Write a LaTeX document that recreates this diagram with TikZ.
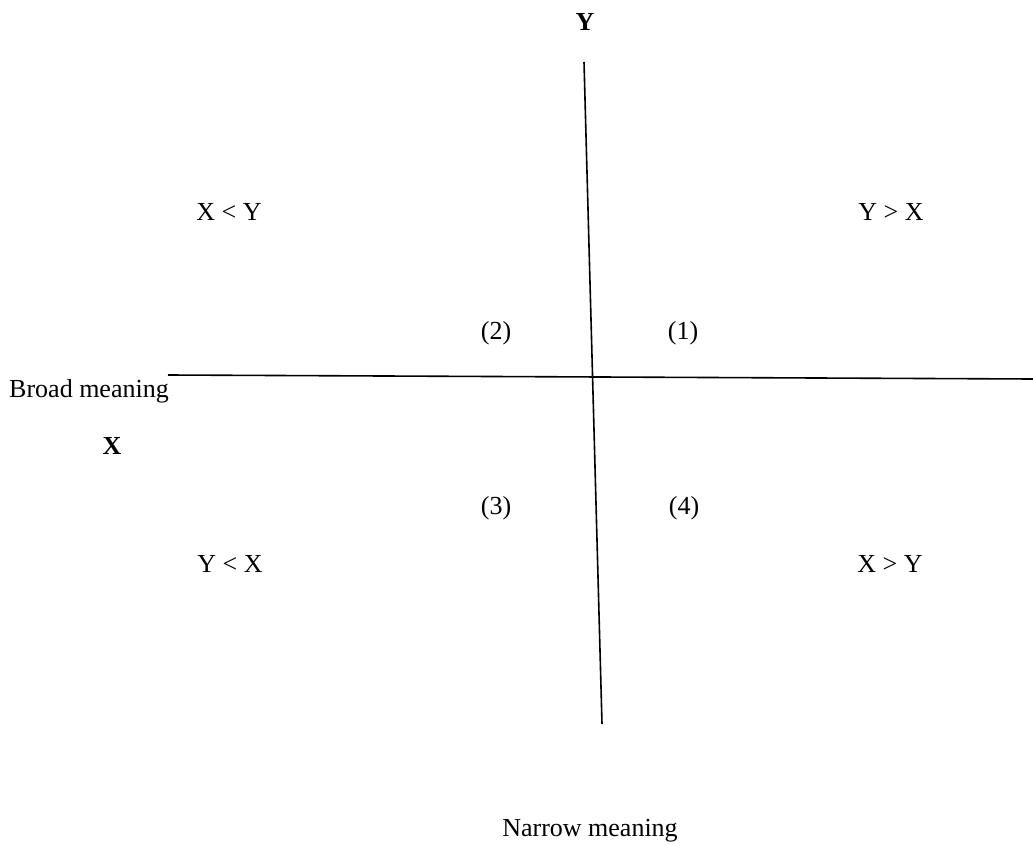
\documentclass[tikz,border=0pt]{standalone}
\usepackage{fontspec}
\setmainfont{Liberation Serif}
\begin{document}
\begin{tikzpicture}[x=1pt,y=-1pt,
  lbl/.style={font=\fontsize{26}{31}\selectfont, inner sep=0pt},
  blbl/.style={font=\fontsize{26}{31}\selectfont\bfseries, inner sep=0pt},
  axis/.style={line width=1.6pt}]
\useasboundingbox (0,0) rectangle (1033,845);
\coordinate (vt) at (584,62);
\coordinate (vb) at (602,724);
\coordinate (hl) at (168,375);
\coordinate (hr) at (1033,379);
\draw[axis] (vt) -- (vb);
\draw[axis] (hl) -- (hr);
\node[blbl] (ylab) at (585,22) {Y};
\node[blbl] (xlab) at (112,446) {X};
\node[lbl] (q2t) at (229,212) {X < Y};
\node[lbl] (q1t) at (891,212) {Y > X};
\node[lbl] (n2) at (496,333) {(2)};
\node[lbl] (n1) at (683,333) {(1)};
\node[lbl] (broad) at (89,391) {Broad meaning};
\node[lbl] (n3) at (496,508) {(3)};
\node[lbl] (n4) at (684,508) {(4)};
\node[lbl] (q3t) at (230,564) {Y < X};
\node[lbl] (q4t) at (890,564) {X > Y};
\node[lbl] (narrow) at (590,831) {Narrow meaning};
\end{tikzpicture}
\end{document}
